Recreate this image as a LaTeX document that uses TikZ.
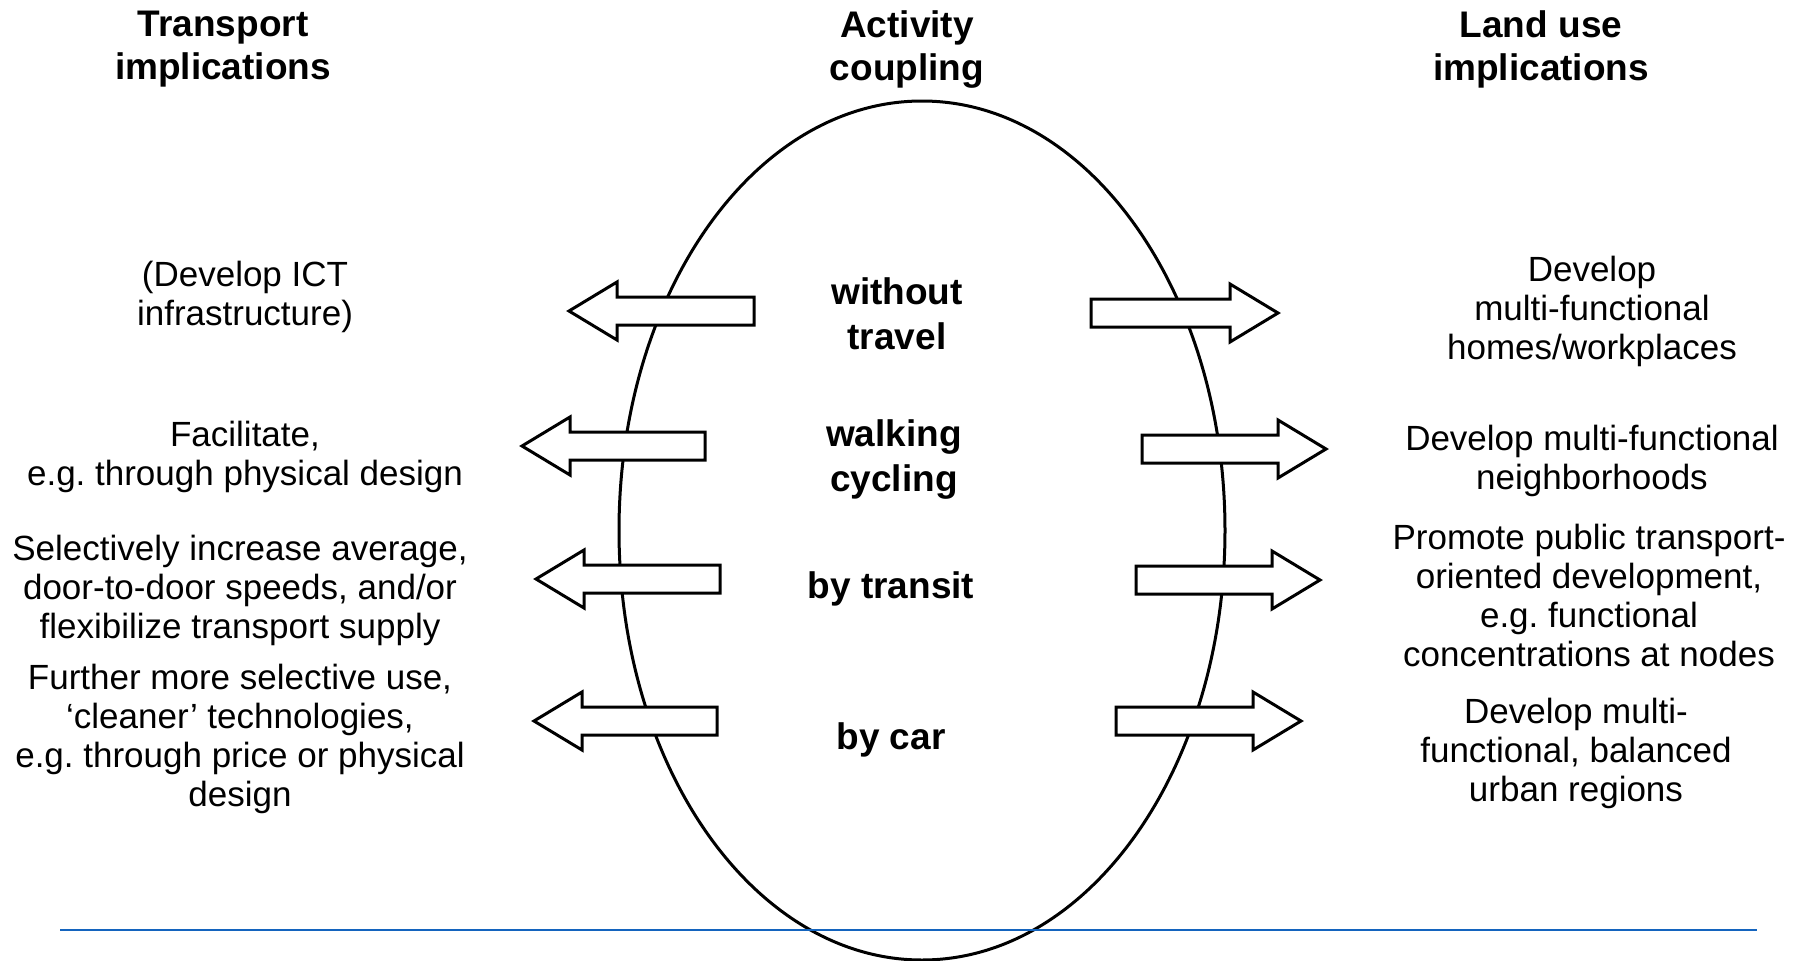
\documentclass[tikz,border=0pt]{standalone}
\usepackage{fontspec}
\setmainfont{Liberation Sans}
\frenchspacing
\definecolor{rulebl}{RGB}{20,100,190}
\newcommand\lblockarrow[4]{% name, tip x, tail x, y
  \draw[blockarr] (#2,#4) -- (#2+48,#4-29) -- (#2+48,#4-14) -- (#3,#4-14) -- (#3,#4+14) -- (#2+48,#4+14) -- (#2+48,#4+29) -- cycle;
  \coordinate (#1) at (#2,#4);}
\newcommand\rblockarrow[4]{% name, tail x, tip x, y
  \draw[blockarr] (#3,#4) -- (#3-48,#4-29) -- (#3-48,#4-14) -- (#2,#4-14) -- (#2,#4+14) -- (#3-48,#4+14) -- (#3-48,#4+29) -- cycle;
  \coordinate (#1) at (#3,#4);}
\begin{document}
\begin{tikzpicture}[x=1pt,y=-1pt,
  blockarr/.style={draw=black,fill=white,line width=3pt,line join=miter},
  head/.style={font=\fontsize{37}{43}\selectfont\bfseries,align=center,inner sep=0pt},
  body/.style={font=\fontsize{35}{39}\selectfont\frenchspacing,align=center,inner sep=0pt},
  mode/.style={font=\fontsize{37}{45}\selectfont\bfseries,align=center,inner sep=0pt}]
\useasboundingbox (0,0) rectangle (1808,961);
\fill[white] (0,0) rectangle (1808,961);
% headers
\node[head] (h1) at (223,49.5) {Transport\\implications};
\node[head] (h2) at (907,49.5) {Activity\\coupling};
\node[head] (h3) at (1541,49.5) {Land use\\implications};
% ellipse
\draw[line width=3pt] (922,530.5) ellipse [x radius=303, y radius=429.5];
% blue rule
\draw[rulebl,line width=2.5pt] (60,930) -- (1757,930);
% arrows
\lblockarrow{al1}{569}{754}{311}
\lblockarrow{al2}{522}{705}{446}
\lblockarrow{al3}{536}{720}{579}
\lblockarrow{al4}{534}{717}{721}
\rblockarrow{ar1}{1091}{1278}{313}
\rblockarrow{ar2}{1142}{1326}{449}
\rblockarrow{ar3}{1136}{1320}{580}
\rblockarrow{ar4}{1116}{1301}{721}
% centre labels
\node[mode] (m1) at (897,314) {without\\travel};
\node[mode] (m2) at (894,459.5) {walking\\cycling};
\node[mode] (m3) at (891,588.5) {by transit};
\node[mode] (m4) at (891,739.5) {by car};
% left texts
\node[body] (l1) at (245,296.5) {(Develop ICT\\infrastructure)};
\node[body] (l2) at (245,456.5) {Facilitate,\\e.g. through physical design};
\node[body] (l3) at (240,590.5) {Selectively increase average,\\door-to-door speeds, and/or\\flexibilize transport supply};
\node[body] (l4) at (240,738.5) {Further more selective use,\\‘cleaner’ technologies,\\e.g. through price or physical\\design};
% right texts
\node[body] (r1) at (1592,311.5) {Develop\\multi-functional\\homes/workplaces};
\node[body] (r2) at (1592,460.5) {Develop multi-functional\\neighborhoods};
\node[body] (r3) at (1589,595.5) {Promote public transport-\\oriented development,\\e.g. functional\\concentrations at nodes};
\node[body] (r4) at (1576,753.5) {Develop multi-\\functional, balanced\\urban regions};
\end{tikzpicture}
\end{document}
